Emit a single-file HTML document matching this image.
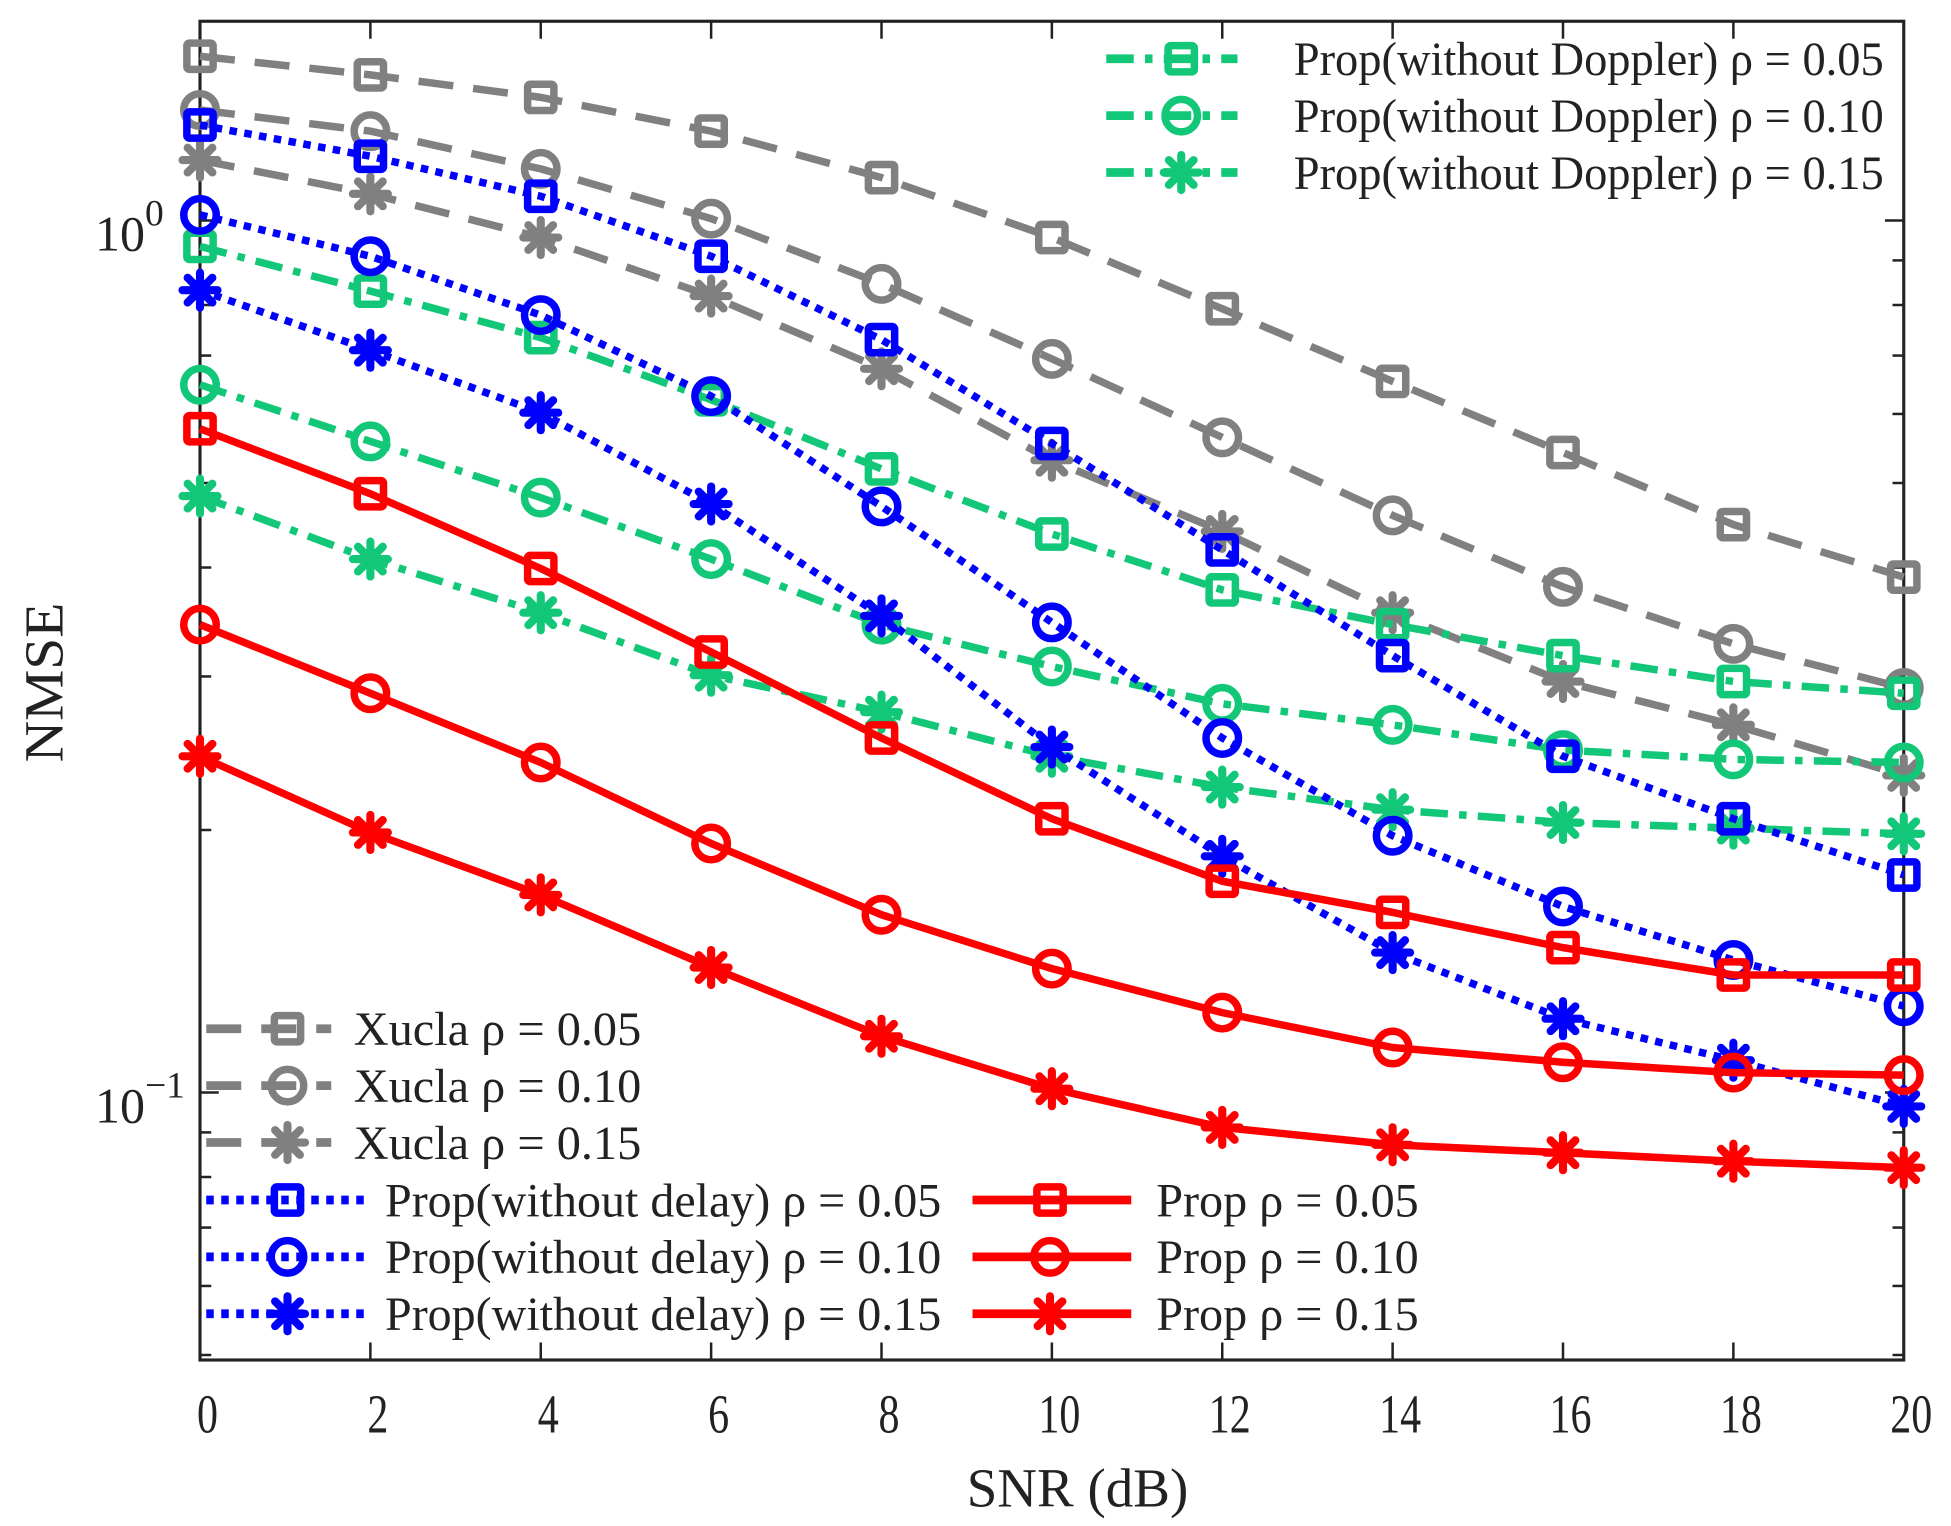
<!DOCTYPE html>
<html><head><meta charset="utf-8"><style>
html,body{margin:0;padding:0;background:#fff;}
svg{display:block;}
text{font-family:"Liberation Serif",serif;fill:#222;}
</style></head><body>
<svg id="chart" width="1951" height="1526" viewBox="0 0 1560.8 1220.8" xmlns="http://www.w3.org/2000/svg">
<g id="plot"></g>
</svg>
<script>
const snr = [0,2,4,6,8,10,12,14,16,18,20];
const xuclaP05 = [1.543,1.469,1.384,1.266,1.120,0.956,0.792,0.654,0.542,0.448,0.390];
const xuclaP10 = [1.339,1.266,1.146,1.005,0.846,0.694,0.564,0.459,0.380,0.327,0.291];
const xuclaP15 = [1.173,1.073,0.956,0.819,0.676,0.531,0.440,0.355,0.296,0.264,0.231];
const noDelayP05 = [1.287,1.185,1.066,0.910,0.730,0.555,0.419,0.317,0.243,0.206,0.1776];
const noDelayP10 = [1.015,0.910,0.779,0.629,0.470,0.346,0.255,0.197,0.1634,0.1419,0.1256];
const noDelayP15 = [0.832,0.710,0.602,0.473,0.352,0.249,0.1866,0.1447,0.1215,0.1089,0.0964];
const noDopP05 = [0.934,0.830,0.734,0.623,0.519,0.437,0.377,0.344,0.317,0.296,0.287];
const noDopP10 = [0.648,0.558,0.481,0.409,0.344,0.308,0.279,0.264,0.247,0.241,0.239];
const noDopP15 = [0.483,0.409,0.355,0.301,0.273,0.243,0.224,0.211,0.204,0.201,0.198];
const propP05 = [0.577,0.486,0.399,0.320,0.255,0.206,0.1747,0.1609,0.1466,0.1364,0.1364];
const propP10 = [0.344,0.287,0.239,0.193,0.1599,0.1387,0.1235,0.1126,0.1083,0.1054,0.1047];
const propP15 = [0.243,0.1987,0.1685,0.1391,0.1160,0.1010,0.0912,0.0871,0.0853,0.0834,0.0820];
const xTicks = [0,2,4,6,8,10,12,14,16,18,20];
const yMinor = [0.05,0.06,0.07,0.08,0.09,0.2,0.3,0.4,0.5,0.6,0.7,0.8,0.9];
const yMajor = [1,0.1];
const yMajorExp = ["0","\u22121"];

const L=160,R=1523,T=17,B=1088;
const X = v => L + (R-L)*v/20;
const Y = v => 176.4 - 697.6*Math.log10(v);
const NS="http://www.w3.org/2000/svg";
const g=document.getElementById('plot');
function el(tag,attrs,parent){const e=document.createElementNS(NS,tag);for(const k in attrs)e.setAttribute(k,attrs[k]);(parent||g).appendChild(e);return e;}

const C={gray:"#808080",blue:"#0000ff",green:"#12c878",red:"#ff0000"};
const DASH={dash:"28,16",dot:"6,6",dashdot:"22,9,6,9",solid:""};

function marker(type,cx,cy,color,parent){
  const sw=6;
  if(type==='sq'){const s=21;return el('rect',{x:cx-s/2,y:cy-s/2,width:s,height:s,fill:'none',stroke:color,'stroke-width':sw,rx:2},parent);}
  if(type==='ci'){return el('circle',{cx:cx,cy:cy,r:13,fill:'none',stroke:color,'stroke-width':sw},parent);}
  const gg=el('g',{},parent);
  for(let a=0;a<4;a++){const ang=a*Math.PI/4;const dx=14*Math.cos(ang),dy=14*Math.sin(ang);
    el('line',{x1:cx-dx,y1:cy-dy,x2:cx+dx,y2:cy+dy,stroke:color,'stroke-width':6.5,'stroke-linecap':'round'},gg);}
  return gg;
}

const box=el('rect',{x:L,y:T,width:R-L,height:B-T,fill:'none',stroke:'#222','stroke-width':2.5});



xTicks.forEach(t=>{
  const x=X(t);
  const tb=el('line',{x1:x,y1:B,x2:x,y2:B-14,stroke:'#222','stroke-width':2});
  
  
  el('line',{x1:x,y1:T,x2:x,y2:T+14,stroke:'#222','stroke-width':2});
  const lab=el('text',{x:x+6,y:1146,'font-size':42,'text-anchor':'middle',transform:`translate(${x+6},1146) scale(0.8,1.05) translate(${-(x+6)},-1146)`});
  lab.textContent=String(t);
  
  
});
yMinor.forEach(v=>{
  const y=Y(v);
  const t1=el('line',{x1:L,y1:y,x2:L+9,y2:y,stroke:'#222','stroke-width':2});
  
  
  el('line',{x1:R,y1:y,x2:R-9,y2:y,stroke:'#222','stroke-width':2});
});
yMajor.forEach((v,i)=>{
  const y=Y(v);
  const t1=el('line',{x1:L,y1:y,x2:L+15,y2:y,stroke:'#222','stroke-width':2});
  
  
  el('line',{x1:R,y1:y,x2:R-15,y2:y,stroke:'#222','stroke-width':2});
  const lab=el('text',{x:76,y:y+24,'font-size':40});
  
  
  lab.textContent='10';
  const sup=el('tspan',{dy:-20,'font-size':30},lab);
  sup.textContent=yMajorExp[i];
});

const xt=el('text',{x:862,y:1205,'font-size':44,'text-anchor':'middle'});
xt.textContent='SNR (dB)';


const yt=el('text',{x:0,y:0,'font-size':46,'text-anchor':'middle',transform:'translate(50,546) rotate(-90) scale(1,0.95)'});
yt.textContent='NMSE';



const series=[
 {n:'xucla-rho-005',d:xuclaP05,c:C.gray,s:'dash',m:'sq'},
 {n:'xucla-rho-010',d:xuclaP10,c:C.gray,s:'dash',m:'ci'},
 {n:'xucla-rho-015',d:xuclaP15,c:C.gray,s:'dash',m:'st'},
 {n:'no-doppler-rho-005',d:noDopP05,c:C.green,s:'dashdot',m:'sq'},
 {n:'no-doppler-rho-010',d:noDopP10,c:C.green,s:'dashdot',m:'ci'},
 {n:'no-doppler-rho-015',d:noDopP15,c:C.green,s:'dashdot',m:'st'},
 {n:'no-delay-rho-005',d:noDelayP05,c:C.blue,s:'dot',m:'sq'},
 {n:'no-delay-rho-010',d:noDelayP10,c:C.blue,s:'dot',m:'ci'},
 {n:'no-delay-rho-015',d:noDelayP15,c:C.blue,s:'dot',m:'st'},
 {n:'prop-rho-005',d:propP05,c:C.red,s:'solid',m:'sq'},
 {n:'prop-rho-010',d:propP10,c:C.red,s:'solid',m:'ci'},
 {n:'prop-rho-015',d:propP15,c:C.red,s:'solid',m:'st'},
];
series.forEach(sr=>{
  const sg=el('g',{});
  
  
  const pts=snr.map((x,i)=>X(x).toFixed(1)+','+Y(sr.d[i]).toFixed(1)).join(' ');
  const pl=el('polyline',{points:pts,fill:'none',stroke:sr.c,'stroke-width':6,'stroke-dasharray':DASH[sr.s],'stroke-linejoin':'round'},sg);
  
  
  snr.forEach((x,i)=>{
    const mk=marker(sr.m,X(x),Y(sr.d[i]),sr.c,sg);
    
    
  });
});

function legendEntry(name,x1,x2,mx,y,color,style,m,tx,label,tlen){
  const lg=el('g',{});
  
  
  el('line',{x1:x1,y1:y,x2:x2,y2:y,stroke:color,'stroke-width':7,'stroke-dasharray':DASH[style]},lg);
  marker(m,mx,y,color,lg);
  const t=el('text',{x:tx,y:y+13,'font-size':38,textLength:tlen,lengthAdjust:'spacingAndGlyphs'},lg);
  t.textContent=label;
}
const rhoVals=['0.05','0.10','0.15'];
const mks=['sq','ci','st'];
rhoVals.forEach((r,i)=>{
  legendEntry('legend-no-doppler-'+r,885,990,945,47+i*45.5,C.green,'dashdot',mks[i],1035,'Prop(without Doppler) \u03c1 = '+r,472);
  legendEntry('legend-xucla-'+r,165,265,230,823+i*45.5,C.gray,'dash',mks[i],283,'Xucla  \u03c1 = '+r,230);
  legendEntry('legend-no-delay-'+r,165,295,230,960+i*45.5,C.blue,'dot',mks[i],308,'Prop(without delay)  \u03c1 = '+r,445);
  legendEntry('legend-prop-'+r,778,905,840,960+i*45.5,C.red,'solid',mks[i],925,'Prop  \u03c1 = '+r,210);
});
</script>
</body></html>
